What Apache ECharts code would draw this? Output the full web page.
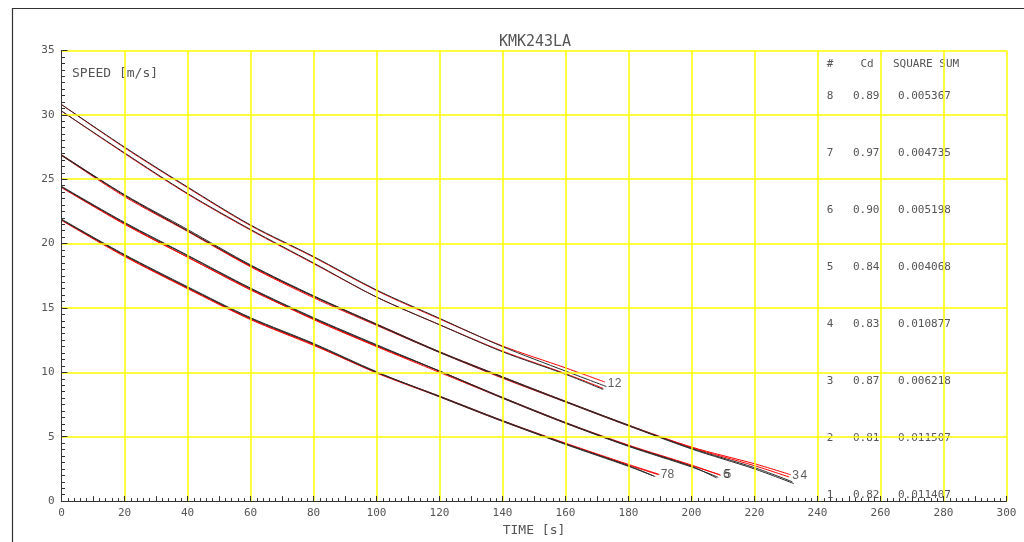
<!DOCTYPE html>
<html>
<head>
<meta charset="utf-8">
<script src="https://cdn.jsdelivr.net/npm/echarts@6/dist/echarts.min.js"></script>
<style>
html,body{margin:0;padding:0;background:#fff;}
#chart{width:1024px;height:542px;}
</style>
</head>
<body>
<div id="chart"></div>
<script>
// ---- data ----
const chartTitle = 'KMK243LA';
const xName = 'TIME [s]';
const yName = 'SPEED [m/s]';

// run 1 / 2 (top group)
const run1Red   = [[0,30.3],[20,27.0],[40,23.85],[60,21.05],[80,18.45],[100,15.85],[120,13.7],[140,11.65],[160,9.9],[172,8.75]];
const run1Black = [[0,30.3],[20,27.05],[40,23.9],[60,21.1],[80,18.5],[100,15.85],[120,13.7],[140,11.6],[160,9.85],[172,8.67]];
const run2Red   = [[0,30.8],[20,27.45],[40,24.35],[60,21.4],[80,18.95],[100,16.35],[120,14.15],[140,12.05],[160,10.35],[172.5,9.25]];
const run2Black = [[0,30.8],[20,27.5],[40,24.4],[60,21.45],[80,19.0],[100,16.4],[120,14.2],[140,12.0],[160,10.1],[173,8.9]];
// run 3 / 4
const run3Red   = [[0,26.9],[20,23.75],[40,21.0],[60,18.25],[80,15.9],[100,13.75],[120,11.6],[140,9.65],[160,7.75],[180,5.9],[200,4.2],[220,2.9],[231.5,2.05]];
const run3Black = [[0,26.9],[20,23.8],[40,21.1],[60,18.35],[80,15.95],[100,13.75],[120,11.6],[140,9.65],[160,7.75],[180,5.9],[200,4.1],[220,2.6],[232,1.5]];
const run4Red   = [[0,26.85],[20,23.65],[40,20.95],[60,18.2],[80,15.8],[100,13.65],[120,11.55],[140,9.55],[160,7.7],[180,5.85],[200,4.15],[220,2.75],[231,1.87]];
const run4Black = [[0,26.85],[20,23.75],[40,21.0],[60,18.3],[80,15.9],[100,13.7],[120,11.55],[140,9.6],[160,7.7],[180,5.85],[200,4.05],[220,2.5],[232.5,1.36]];
// run 5 / 6
const run5Red   = [[0,24.35],[20,21.5],[40,18.95],[60,16.4],[80,14.15],[100,12.05],[120,10.1],[140,8.05],[160,6.1],[180,4.35],[200,2.8],[209.3,2.0]];
const run5Black = [[0,24.4],[20,21.6],[40,19.05],[60,16.5],[80,14.2],[100,12.1],[120,10.1],[140,8.05],[160,6.1],[180,4.3],[200,2.7],[208,1.8]];
const run6Red   = [[0,24.4],[20,21.55],[40,18.95],[60,16.45],[80,14.1],[100,12.0],[120,10.0],[140,8.0],[160,6.05],[180,4.3],[200,2.75],[209,2.05]];
const run6Black = [[0,24.45],[20,21.65],[40,19.1],[60,16.55],[80,14.25],[100,12.15],[120,10.1],[140,8.0],[160,6.05],[180,4.25],[200,2.65],[208.5,1.85]];
// run 7 / 8
const run7Red   = [[0,21.8],[20,19.0],[40,16.5],[60,14.1],[80,12.1],[100,10.0],[120,8.15],[140,6.25],[160,4.5],[180,2.85],[189.8,2.07]];
const run7Black = [[0,21.85],[20,19.1],[40,16.6],[60,14.2],[80,12.2],[100,10.0],[120,8.15],[140,6.25],[160,4.45],[180,2.75],[188,1.95]];
const run8Red   = [[0,21.85],[20,19.05],[40,16.55],[60,14.15],[80,12.15],[100,9.95],[120,8.1],[140,6.2],[160,4.45],[180,2.8],[189.5,2.05]];
const run8Black = [[0,21.9],[20,19.15],[40,16.65],[60,14.25],[80,12.25],[100,10.05],[120,8.1],[140,6.2],[160,4.4],[180,2.7],[188.5,1.9]];

// end-of-curve run labels (anchor in data units)
const runLabels = ['1','2','3','4','6','5','7','8'];
const runLabelAnchors = [[173.4,9.15],[175.6,9.15],[232.0,2.0],[234.6,2.0],[210.0,2.05],[210.5,2.05],[190.2,2.05],[192.4,2.05]];

// table on the right
const tableHeader = ['#','Cd','SQUARE SUM'];
const tableRunIds = ['8','7','6','5','4','3','2','1'];
const tableCd = ['0.89','0.97','0.90','0.84','0.83','0.87','0.81','0.82'];
const tableSquareSum = ['0.005367','0.004735','0.005198','0.004068','0.010877','0.006218','0.011507','0.011407'];

// ---- chart ----
const FONT = 'DejaVu Sans Mono';
const TXT = '#555';
const AX = '#333';
const YEL = '#ffff00';
const chart = echarts.init(document.getElementById('chart'), null, {renderer:'canvas'});

const pairs = [
  [run1Red, run1Black],[run2Red, run2Black],[run3Red, run3Black],[run4Red, run4Black],
  [run5Red, run5Black],[run6Red, run6Black],[run7Red, run7Black],[run8Red, run8Black]
];
const series = [];
pairs.forEach((p, i) => {
  series.push({type:'line', name:'red'+(i+1), data:p[0], showSymbol:false, smooth:0.3, silent:true,
    lineStyle:{color:'#ff0000', width:1}, z:2});
  series.push({type:'line', name:'black'+(i+1), data:p[1], showSymbol:false, smooth:0.3, silent:true,
    lineStyle:{color:'#2a2a2a', width:1}, z:3});
});
series.push({
  type:'scatter', silent:true, symbolSize:0, z:5,
  data: runLabelAnchors.map((a,i)=>({value:a, name:runLabels[i]})),
  label:{show:true, position:'right', distance:0, formatter:p=>p.name,
    fontFamily:'Liberation Sans', fontSize:12, color:'#333'}
});

// table graphics
const graphics = [];
const rowY0 = 96.5, rowStep = 56.9;
graphics.push({type:'text', x:830, y:64, style:{text:tableHeader[0], fontFamily:FONT, fontSize:11, fill:TXT, align:'center', verticalAlign:'middle'}});
graphics.push({type:'text', x:867, y:64, style:{text:tableHeader[1], fontFamily:FONT, fontSize:11, fill:TXT, align:'center', verticalAlign:'middle'}});
graphics.push({type:'text', x:893, y:64, style:{text:tableHeader[2], fontFamily:FONT, fontSize:11, fill:TXT, align:'left', verticalAlign:'middle'}});
tableRunIds.forEach((id,i)=>{
  const y = rowY0 + i*rowStep;
  graphics.push({type:'text', x:830, y:y, style:{text:id, fontFamily:FONT, fontSize:11, fill:TXT, align:'center', verticalAlign:'middle'}});
  graphics.push({type:'text', x:853, y:y, style:{text:tableCd[i], fontFamily:FONT, fontSize:11, fill:TXT, align:'left', verticalAlign:'middle'}});
  graphics.push({type:'text', x:898, y:y, style:{text:tableSquareSum[i], fontFamily:FONT, fontSize:11, fill:TXT, align:'left', verticalAlign:'middle'}});
});
// title, y-name, frame
graphics.push({type:'text', x:535, y:42, style:{text:chartTitle, fontFamily:FONT, fontSize:15, fill:TXT, align:'center', verticalAlign:'middle'}});
graphics.push({type:'text', x:72, y:74, style:{text:yName, fontFamily:FONT, fontSize:13, fill:TXT, align:'left', verticalAlign:'middle'}});
graphics.push({type:'line', shape:{x1:12, y1:8.5, x2:1024, y2:8.5}, style:{stroke:'#333', lineWidth:1.2}});
graphics.push({type:'line', shape:{x1:12.5, y1:8, x2:12.5, y2:542}, style:{stroke:'#333', lineWidth:1.2}});

const option = {
  animation:false,
  backgroundColor:'#fff',
  grid:{left:61.5, width:945, top:50.5, height:455, containLabel:false},
  xAxis:[{
    type:'value', min:0, max:300, interval:20, z:5,
    name:xName, nameLocation:'middle', nameGap:20,
    nameTextStyle:{fontFamily:FONT, fontSize:13, color:TXT},
    axisLine:{show:true, onZero:false, lineStyle:{color:AX, width:1}},
    axisTick:{show:true, inside:true, length:5, lineStyle:{color:AX}},
    minorTick:{show:true, splitNumber:10, length:3, lineStyle:{color:AX}},
    axisLabel:{margin:7, fontFamily:FONT, fontSize:11, color:TXT},
    splitLine:{show:true, showMinLine:false, showMaxLine:true, lineStyle:{color:YEL, width:1.5}}
  },{
    type:'value', min:0, max:300, interval:10, position:'bottom', z:5,
    axisLine:{show:false}, axisLabel:{show:false}, splitLine:{show:false},
    axisTick:{show:true, inside:true, length:5, lineStyle:{color:AX}}
  }],
  yAxis:{
    type:'value', min:0, max:35, interval:5, z:5,
    axisLine:{show:true, onZero:false, lineStyle:{color:AX, width:1}},
    axisTick:{show:true, inside:true, length:6, lineStyle:{color:AX}},
    minorTick:{show:true, splitNumber:10, length:3.5, lineStyle:{color:AX}},
    axisLabel:{margin:7, fontFamily:FONT, fontSize:11, color:TXT},
    splitLine:{show:true, showMinLine:false, showMaxLine:true, lineStyle:{color:YEL, width:1.5}}
  },
  graphic:graphics,
  series:series
};
chart.setOption(option);
</script>
</body>
</html>
